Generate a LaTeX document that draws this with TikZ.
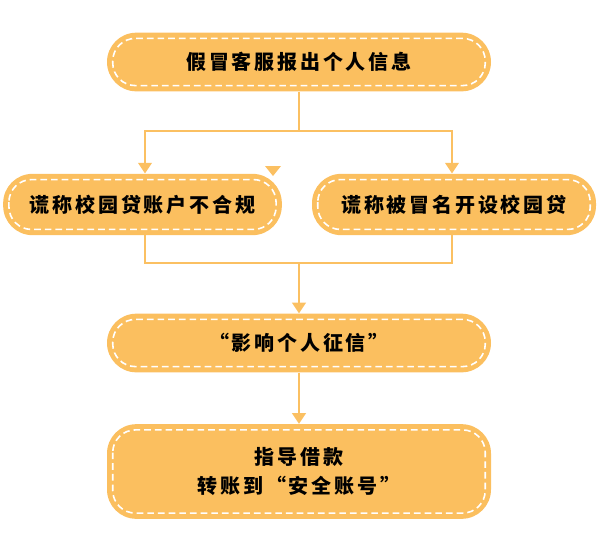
\documentclass[tikz,border=0pt]{standalone}
\usepackage{fontspec}
\setmainfont{Noto Sans CJK SC}[LetterSpace=14]
\usepackage{tikz}
\usetikzlibrary{arrows.meta,calc}
\definecolor{pillorange}{HTML}{FBBF5F}
\definecolor{lineorange}{HTML}{FBC062}

\begin{document}
\begin{tikzpicture}[
  x=0.75pt, y=-0.75pt,
  font=\bfseries\fontsize{15pt}{22pt}\selectfont,
  pill/.style={
    rectangle, rounded corners=22pt,
    fill=pillorange, text=black,
    align=center, inner sep=0pt
  },
  rim/.style={draw=white, line width=1.2pt, dash pattern=on 5pt off 3pt, rounded corners=17pt},
  link/.style={draw=lineorange, line width=2.2pt},
  arr/.style={link, -{Triangle[length=8pt, width=10pt]}},
]
\useasboundingbox (0,0) rectangle (601,533);

% boxes
\node[pill, minimum width=288pt, minimum height=44pt] (info) at (299,62) {假冒客服报出个人信息};
\node[pill, minimum width=209pt, minimum height=46pt] (noncomp) at (142.5,204.5) {谎称校园贷账户不合规};
\node[pill, minimum width=213pt, minimum height=46pt] (fake) at (454,204.5) {谎称被冒名开设校园贷};
\node[pill, minimum width=288pt, minimum height=44pt] (credit) at (299,343) {“影响个人征信”};
\node[pill, minimum width=288pt, minimum height=71pt] (transfer) at (299,471.5) {指导借款\\转账到“安全账号”};

% inner dashed rims
\foreach \n in {info,noncomp,fake,credit,transfer}
  \draw[rim] ($(\n.north west)+(6,6)$) rectangle ($(\n.south east)+(-6,-6)$);

% connectors
\coordinate (split) at (299,131);
\coordinate (join) at (299,263);
\draw[link] (info.south) -- (split);
\draw[arr] (split) -| ($(noncomp.north)+(2.5,0)$);
\draw[arr] (split) -| ($(fake.north)+(-2,0)$);
\draw[link] ($(noncomp.south)+(2.5,0)$) |- (join);
\draw[link] ($(fake.south)+(-2,0)$) |- (join);
\draw[arr] (join) -- (credit.north);
\draw[arr] (credit.south) -- (transfer.north);

% stray tip
\fill[lineorange] (265,166) -- (281,166) -- (273,176) -- cycle;
\end{tikzpicture}
\end{document}
